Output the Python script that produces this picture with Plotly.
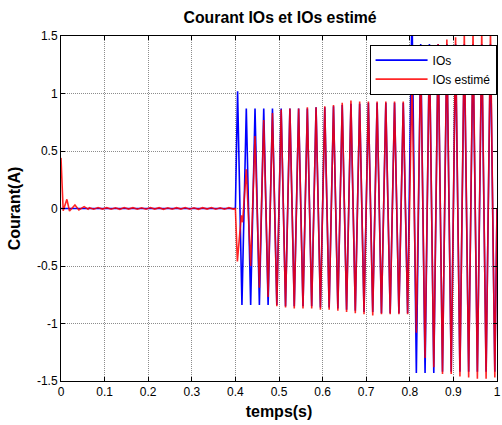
import plotly.graph_objects as go

# Waveforms are stored as their turning points (time in s, current in A).
# Sinusoid extrema occur every half period of the 50 Hz signal.
half_period_times = [0.405 + 0.01 * k for k in range(60)]

# IOs: zero until the load steps in at t = 0.4 s, then the second step at 0.8 s
ios_pre_t = [0.0, 0.4]
ios_pre_v = [0.0, 0.0]
ios_peaks = [
    1.02, -0.84, 0.87, -0.84, 0.87, -0.84, 0.87, -0.84, 0.87, -0.84,
    0.87, -0.85, 0.87, -0.85, 0.87, -0.85, 0.87, -0.85, 0.88, -0.86,
    0.88, -0.86, 0.89, -0.87, 0.90, -0.88, 0.91, -0.89, 0.91, -0.90,
    0.92, -0.90, 0.92, -0.91, 0.92, -0.91, 0.92, -0.91, 0.92, -0.91,
    1.75, -1.43, 1.43, -1.43, 1.43, -1.43, 1.43, -1.42, 1.43, -1.42,
    1.43, -1.42, 1.43, -1.42, 1.43, -1.42, 1.43, -1.42, 1.43, -1.42,
]
ios_end_t = [1.0]
ios_end_v = [0.0]

# IOs estimé: start-up transient of the estimator, then small ripple around zero
est_start_t = [0.0, 0.005, 0.0135, 0.0195, 0.032, 0.041, 0.053, 0.062]
est_start_v = [0.44, -0.02, 0.08, -0.022, 0.03, -0.013, 0.016, -0.006]
est_ripple_t = [0.065 + 0.01 * k for k in range(34)]
est_ripple_v = [
    0.007, -0.006, 0.008, -0.005, 0.007, -0.006, 0.006, -0.007, 0.008, -0.005,
    0.007, -0.006, 0.006, -0.006, 0.008, -0.005, 0.007, -0.007, 0.006, -0.006,
    0.007, -0.005, 0.008, -0.006, 0.006, -0.007, 0.007, -0.005, 0.008, -0.006,
    0.006, -0.006, 0.007, -0.005,
]
# convergence transient after the step at 0.4 s
est_step_t = [0.4, 0.4045, 0.4136, 0.4165]
est_step_v = [0.0, -0.46, -0.06, -0.12]
est_peaks = [
    0.34, -0.50, 0.63, -0.69, 0.77, -0.77, 0.83, -0.85,
    0.86, -0.86, 0.87, -0.87, 0.87, -0.87, 0.88, -0.87, 0.88, -0.88,
    0.89, -0.88, 0.90, -0.89, 0.92, -0.90, 0.94, -0.91, 0.93, -0.92,
    0.93, -0.93, 0.93, -0.92, 0.93, -0.92, 0.93, -0.92, 0.93, -0.92,
    1.12, -1.08, 1.30, -1.30, 1.38, -1.38, 1.43, -1.44, 1.47, -1.44,
    1.49, -1.46, 1.52, -1.47, 1.53, -1.48, 1.54, -1.48, 1.54, -1.47,
]
est_end_t = [1.0]
est_end_v = [0.0]

x_ticks = [0, 0.1, 0.2, 0.3, 0.4, 0.5, 0.6, 0.7, 0.8, 0.9, 1]
x_tick_text = ["0", "0.1", "0.2", "0.3", "0.4", "0.5", "0.6", "0.7", "0.8", "0.9", "1"]
y_ticks = [-1.5, -1, -0.5, 0, 0.5, 1, 1.5]
y_tick_text = ["-1.5", "-1", "-0.5", "0", "0.5", "1", "1.5"]

ios_t = ios_pre_t + half_period_times + ios_end_t
ios_v = ios_pre_v + ios_peaks + ios_end_v
est_t = est_start_t + est_ripple_t + est_step_t + half_period_times[2:] + est_end_t
est_v = est_start_v + est_ripple_v + est_step_v + est_peaks + est_end_v

FONT = "Liberation Sans, Arial, sans-serif"

fig = go.Figure()
fig.add_trace(go.Scatter(x=ios_t, y=ios_v, mode="lines", name="IOs",
                         line=dict(color="#0000ff", width=1.6)))
fig.add_trace(go.Scatter(x=est_t, y=est_v, mode="lines", name="IOs estimé",
                         line=dict(color="#ff0000", width=1.6), opacity=0.85))

axis_common = dict(
    showline=True, linecolor="black", linewidth=1, mirror="ticks",
    ticks="inside", ticklen=4, tickcolor="black",
    showgrid=True, gridcolor="#8c8c8c", griddash="1px,1px", gridwidth=1,
    zeroline=False, tickfont=dict(family=FONT, size=12, color="black"),
    ticklabeloverflow="allow",
)

fig.update_layout(
    width=502, height=425,
    margin=dict(l=61, r=1, t=36, b=44),
    paper_bgcolor="white", plot_bgcolor="white",
    title=dict(text="<b>Courant IOs et IOs estimé</b>", x=0.558, xanchor="center",
               y=0.958, yanchor="middle",
               font=dict(family=FONT, size=15.8, color="black")),
    xaxis=dict(range=[0, 1], tickvals=x_ticks, ticktext=x_tick_text,
               title=dict(text="<b>temps(s)</b>", standoff=7,
                          font=dict(family=FONT, size=16, color="black")),
               **axis_common),
    yaxis=dict(range=[-1.5, 1.5], tickvals=y_ticks, ticktext=y_tick_text,
               title=dict(text="<b>Courant(A)</b>", standoff=12,
                          font=dict(family=FONT, size=16, color="black")),
               **axis_common),
    legend=dict(x=0.999, y=0.975, xanchor="right", yanchor="top",
                bgcolor="white", bordercolor="black", borderwidth=1,
                font=dict(family=FONT, size=12, color="black"),
                tracegroupgap=0, itemwidth=52),
    showlegend=True,
)

fig.write_html("out.html")
